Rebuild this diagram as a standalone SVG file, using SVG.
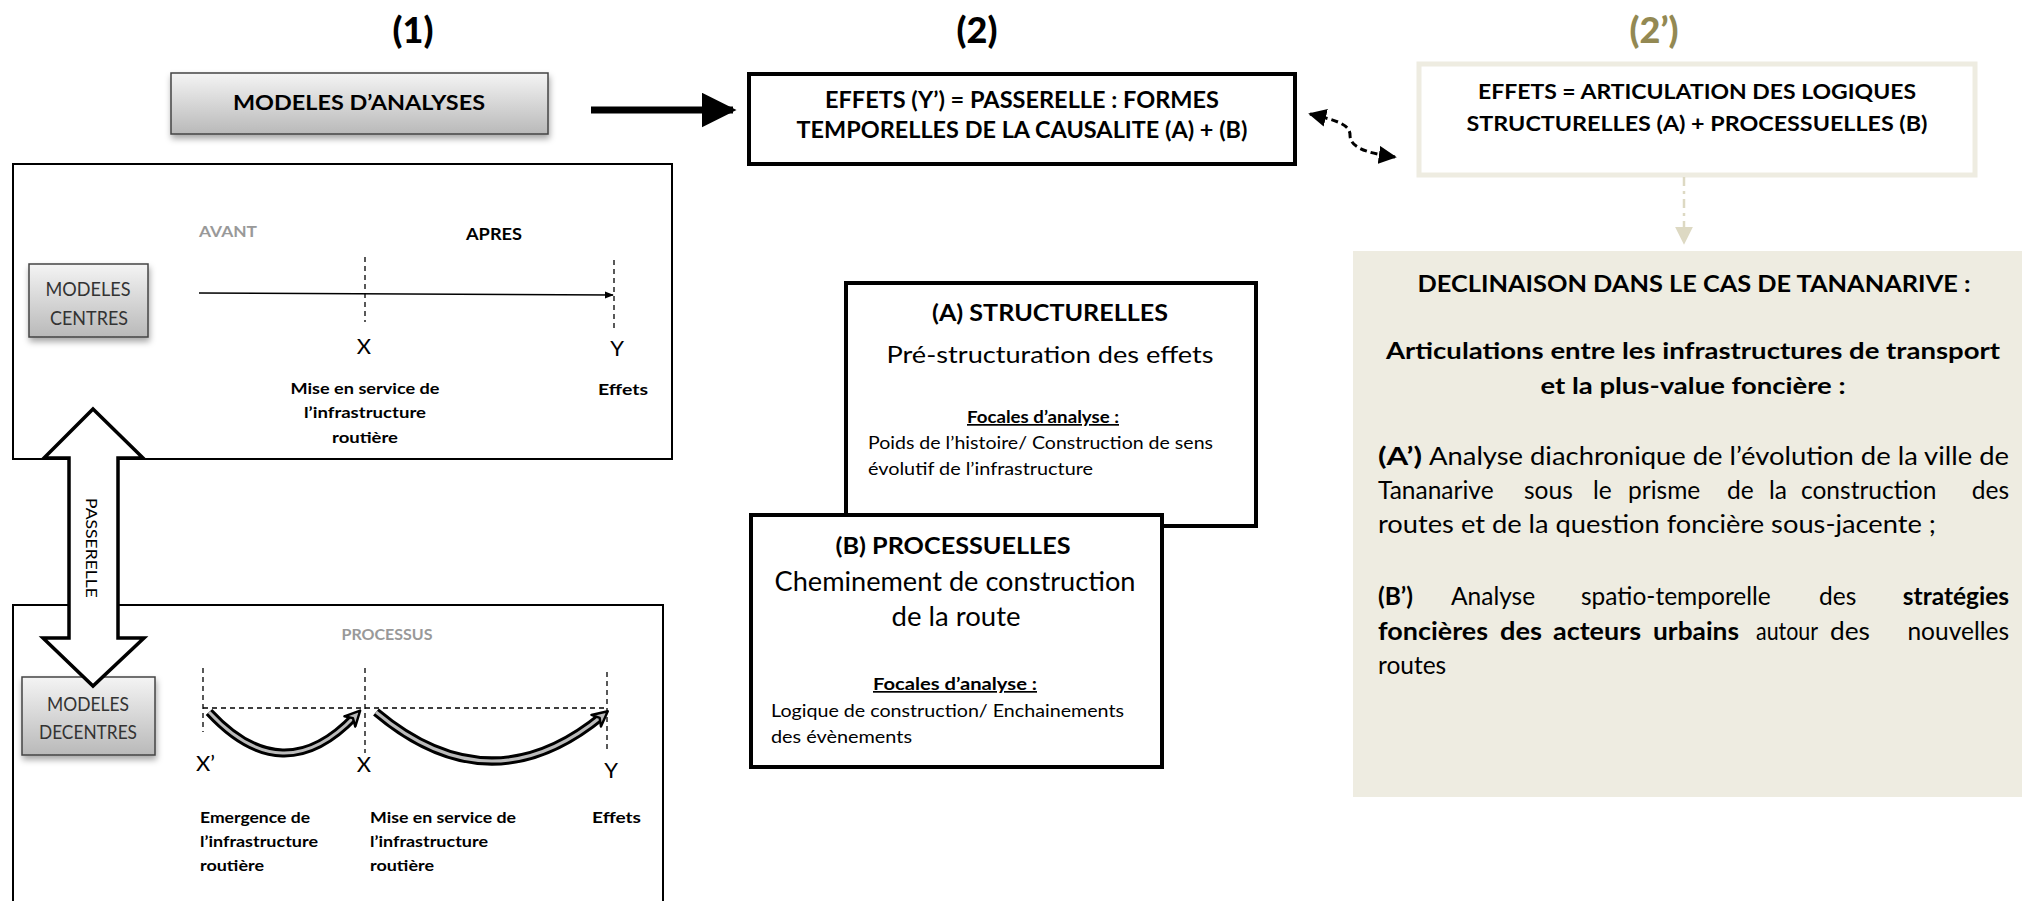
<svg xmlns="http://www.w3.org/2000/svg" width="2022" height="901" viewBox="0 0 2022 901">
<style>
text{font-family:Lato,"Open Sans","Liberation Sans",sans-serif;fill:#000}
.b{font-weight:bold}
.c{text-anchor:middle}
.e{text-anchor:end}
.t{font-size:36px;font-weight:900}
.gbox{fill:url(#gg);stroke:#444;stroke-width:1.5}
.gl{font-size:19px;fill:#333}
.frame{fill:#fff;stroke:#000;stroke-width:2}
.thick{fill:#fff;stroke:#000;stroke-width:4}
.lab{font-size:16px;font-weight:bold}
.xy{font-size:22px}
.dash{stroke:#000;stroke-width:1.3;stroke-dasharray:5 4;fill:none}
.pr{font-size:24.5px}
.ph{font-size:23px;font-weight:bold}
</style>
<defs>
<linearGradient id="gg" x1="0" y1="0" x2="0" y2="1">
<stop offset="0" stop-color="#f4f4f4"/>
<stop offset="1" stop-color="#b9b9b9"/>
</linearGradient>
<filter id="sh" x="-10%" y="-10%" width="125%" height="150%">
<feDropShadow dx="1" dy="4" stdDeviation="3" flood-color="#000" flood-opacity="0.35"/>
</filter>
<marker id="ah" viewBox="0 0 10 10" refX="9" refY="5" markerWidth="5" markerHeight="5" orient="auto-start-reverse" markerUnits="strokeWidth">
<path d="M0,0 L10,5 L0,10 z" fill="#000"/>
</marker>
<marker id="ahs" viewBox="0 0 10 10" refX="9" refY="5" markerWidth="9" markerHeight="9" orient="auto" markerUnits="userSpaceOnUse">
<path d="M0,1 L10,5 L0,9 z" fill="#000"/>
</marker>
<marker id="ahd" viewBox="0 0 10 10" refX="9" refY="5" markerWidth="18" markerHeight="18" orient="auto-start-reverse" markerUnits="userSpaceOnUse">
<path d="M0,0 L10,5 L0,10 z" fill="#000"/>
</marker>
<marker id="ahc" viewBox="0 0 12 12" refX="6" refY="6" markerWidth="18" markerHeight="18" orient="auto" markerUnits="userSpaceOnUse">
<path d="M1,1 L11,6 L1,11 L4,6 z" fill="#bbb" stroke="#000" stroke-width="1.6" stroke-linejoin="round"/>
</marker>
<marker id="ahb" viewBox="0 0 10 10" refX="9" refY="5" markerWidth="18" markerHeight="18" orient="auto" markerUnits="userSpaceOnUse">
<path d="M0,0 L10,5 L0,10 z" fill="#ddd9c3"/>
</marker>
</defs>

<rect width="2022" height="901" fill="#fff"/>

<!-- Titles -->
<g id="title1"><text class="t c" x="413" y="43">(1)</text></g>
<g id="title2"><text class="t c" x="977" y="43">(2)</text></g>
<g id="title2p"><text class="t c" x="1654" y="43" style="fill:#938953">(2’)</text></g>

<!-- MODELES D'ANALYSES -->
<g id="modeles-analyses">
<rect x="171" y="73" width="377" height="61" class="gbox" filter="url(#sh)"/>
<text class="b c" x="359" y="110" font-size="21" textLength="252" lengthAdjust="spacingAndGlyphs">MODELES D’ANALYSES</text>
</g>

<!-- Effets (2) -->
<g id="effets-passerelle">
<rect x="749" y="74" width="546" height="90" class="thick"/>
<text class="b c" x="1022" y="108" font-size="22" textLength="394" lengthAdjust="spacingAndGlyphs">EFFETS (Y’) = PASSERELLE : FORMES</text>
<text class="b c" x="1022" y="138" font-size="22" textLength="451" lengthAdjust="spacingAndGlyphs">TEMPORELLES DE LA CAUSALITE (A) + (B)</text>
</g>

<!-- Effets (2') -->
<g id="effets-articulation">
<rect x="1419" y="64" width="556" height="111" fill="#fff" stroke="#eeece1" stroke-width="5"/>
<text class="b c" x="1697" y="99" font-size="21" textLength="438" lengthAdjust="spacingAndGlyphs">EFFETS = ARTICULATION DES LOGIQUES</text>
<text class="b c" x="1697" y="131" font-size="21" textLength="461" lengthAdjust="spacingAndGlyphs">STRUCTURELLES (A) + PROCESSUELLES (B)</text>
</g>

<!-- Declinaison panel -->
<g id="declinaison">
<rect x="1353" y="251" width="669" height="546" fill="#eeece1"/>
<text class="b c" x="1694" y="292" font-size="22" textLength="553" lengthAdjust="spacingAndGlyphs">DECLINAISON DANS LE CAS DE TANANARIVE :</text>
<text class="ph c" x="1693" y="359" textLength="614" lengthAdjust="spacingAndGlyphs">Articulations entre les infrastructures de transport</text>
<text class="ph c" x="1693" y="394" textLength="305" lengthAdjust="spacingAndGlyphs">et la plus-value foncière :</text>
<text class="pr" y="465"><tspan class="b" x="1378" textLength="44" lengthAdjust="spacingAndGlyphs">(A’)</tspan><tspan x="1429" textLength="580" lengthAdjust="spacingAndGlyphs">Analyse diachronique de l’évolution de la ville de</tspan></text>
<text class="pr" y="499"><tspan x="1378">Tananarive</tspan><tspan x="1524">sous</tspan><tspan x="1593">le</tspan><tspan x="1628">prisme</tspan><tspan x="1727">de</tspan><tspan x="1769">la</tspan><tspan x="1801">construction</tspan><tspan x="2009" text-anchor="end">des</tspan></text>
<text class="pr" x="1378" y="533" textLength="558" lengthAdjust="spacingAndGlyphs">routes et de la question foncière sous-jacente ;</text>
<text class="pr" y="605"><tspan class="b" x="1378">(B’)</tspan><tspan x="1451">Analyse</tspan><tspan x="1581">spatio-temporelle</tspan><tspan x="1819">des</tspan><tspan class="b" x="2009" text-anchor="end">stratégies</tspan></text>
<text class="pr" y="640"><tspan class="b" x="1378" textLength="110" lengthAdjust="spacingAndGlyphs">foncières</tspan><tspan class="b" x="1500" textLength="42" lengthAdjust="spacingAndGlyphs">des</tspan><tspan class="b" x="1553" textLength="88" lengthAdjust="spacingAndGlyphs">acteurs</tspan><tspan class="b" x="1653" textLength="86" lengthAdjust="spacingAndGlyphs">urbains</tspan><tspan x="1756" textLength="62" lengthAdjust="spacingAndGlyphs">autour</tspan><tspan x="1830" textLength="40" lengthAdjust="spacingAndGlyphs">des</tspan><tspan x="2009" text-anchor="end">nouvelles</tspan></text>
<text class="pr" x="1378" y="674">routes</text>
</g>

<!-- (A) Structurelles -->
<g id="structurelles">
<rect x="846" y="283" width="410" height="243" class="thick"/>
<text class="b c" x="1050" y="321" font-size="23" textLength="236" lengthAdjust="spacingAndGlyphs">(A) STRUCTURELLES</text>
<text class="c" x="1050" y="363" font-size="24" textLength="327" lengthAdjust="spacingAndGlyphs">Pré-structuration des effets</text>
<text class="b c" x="1043" y="423" font-size="17" textLength="152" lengthAdjust="spacingAndGlyphs" text-decoration="underline">Focales d’analyse :</text>
<text x="868" y="449" font-size="17" textLength="345" lengthAdjust="spacingAndGlyphs">Poids de l’histoire/ Construction de sens</text>
<text x="868" y="475" font-size="17" textLength="225" lengthAdjust="spacingAndGlyphs">évolutif de l’infrastructure</text>
</g>

<!-- (B) Processuelles -->
<g id="processuelles">
<rect x="751" y="515" width="411" height="252" class="thick"/>
<text class="b c" x="953" y="554" font-size="23" textLength="235" lengthAdjust="spacingAndGlyphs">(B) PROCESSUELLES</text>
<text class="c" x="955" y="591" font-size="27" textLength="361" lengthAdjust="spacingAndGlyphs">Cheminement de construction</text>
<text class="c" x="956" y="626" font-size="27" textLength="129" lengthAdjust="spacingAndGlyphs">de la route</text>
<text class="b c" x="955" y="690" font-size="17" textLength="164" lengthAdjust="spacingAndGlyphs" text-decoration="underline">Focales d’analyse :</text>
<text x="771" y="717" font-size="17" textLength="353" lengthAdjust="spacingAndGlyphs">Logique de construction/ Enchainements</text>
<text x="771" y="743" font-size="17" textLength="141" lengthAdjust="spacingAndGlyphs">des évènements</text>
</g>

<!-- Modeles centres panel -->
<g id="modeles-centres-panel">
<rect x="13" y="164" width="659" height="295" class="frame"/>
<text class="b" x="199" y="237" font-size="15" style="fill:#999" textLength="58" lengthAdjust="spacingAndGlyphs">AVANT</text>
<text class="b" x="466" y="240" font-size="17" textLength="56" lengthAdjust="spacingAndGlyphs">APRES</text>
<rect x="29" y="264" width="119" height="73" class="gbox" filter="url(#sh)"/>
<text class="gl c" x="88" y="296" textLength="85" lengthAdjust="spacingAndGlyphs">MODELES</text>
<text class="gl c" x="89" y="325" textLength="78" lengthAdjust="spacingAndGlyphs">CENTRES</text>
<line x1="199" y1="293" x2="613" y2="295" stroke="#000" stroke-width="1.5" marker-end="url(#ahs)"/>
<line x1="365" y1="257" x2="365" y2="322" class="dash"/>
<line x1="614" y1="260" x2="614" y2="330" class="dash"/>
<text class="xy c" x="364" y="354">X</text>
<text class="xy c" x="617" y="356">Y</text>
<text class="lab c" x="365" y="394" textLength="149" lengthAdjust="spacingAndGlyphs">Mise en service de</text>
<text class="lab c" x="365" y="418" textLength="122" lengthAdjust="spacingAndGlyphs">l’infrastructure</text>
<text class="lab c" x="365" y="443" textLength="66" lengthAdjust="spacingAndGlyphs">routière</text>
<text class="lab c" x="623" y="395" textLength="50" lengthAdjust="spacingAndGlyphs">Effets</text>
</g>

<!-- Modeles decentres panel -->
<g id="modeles-decentres-panel">
<path d="M13,901 V605 H663 V901" class="frame"/>
<text class="b c" x="387" y="640" font-size="16" style="fill:#999" textLength="91" lengthAdjust="spacingAndGlyphs">PROCESSUS</text>
<rect x="22" y="677" width="133" height="78" class="gbox" filter="url(#sh)"/>
<text class="gl c" x="88" y="711" textLength="82" lengthAdjust="spacingAndGlyphs">MODELES</text>
<text class="gl c" x="88" y="739" textLength="98" lengthAdjust="spacingAndGlyphs">DECENTRES</text>
<line x1="203" y1="668" x2="203" y2="732" class="dash"/>
<line x1="365" y1="668" x2="365" y2="753" class="dash"/>
<line x1="607" y1="672" x2="607" y2="753" class="dash"/>
<line x1="203" y1="708" x2="605" y2="708" class="dash"/>
<path d="M209,712 Q283,792 355,716" fill="none" stroke="#000" stroke-width="9" stroke-linecap="butt"/>
<path d="M209,712 Q283,792 355,716" fill="none" stroke="#bbb" stroke-width="3" marker-end="url(#ahc)"/>
<path d="M376,712 Q490,808 602,716" fill="none" stroke="#000" stroke-width="9" stroke-linecap="butt"/>
<path d="M376,712 Q490,808 602,716" fill="none" stroke="#bbb" stroke-width="3" marker-end="url(#ahc)"/>
<text class="xy" x="196" y="771">X’</text>
<text class="xy c" x="364" y="772">X</text>
<text class="xy c" x="611" y="778">Y</text>
<text class="lab" x="200" y="823" textLength="110" lengthAdjust="spacingAndGlyphs">Emergence de</text>
<text class="lab" x="200" y="847" textLength="118" lengthAdjust="spacingAndGlyphs">l’infrastructure</text>
<text class="lab" x="200" y="871" textLength="64" lengthAdjust="spacingAndGlyphs">routière</text>
<text class="lab" x="370" y="823" textLength="146" lengthAdjust="spacingAndGlyphs">Mise en service de</text>
<text class="lab" x="370" y="847" textLength="118" lengthAdjust="spacingAndGlyphs">l’infrastructure</text>
<text class="lab" x="370" y="871" textLength="64" lengthAdjust="spacingAndGlyphs">routière</text>
<text class="lab" x="592" y="823" textLength="49" lengthAdjust="spacingAndGlyphs">Effets</text>
</g>

<!-- Passerelle double arrow -->
<g id="passerelle">
<polygon points="93,409 143,458 118,458 118,638 144,638 93,686 43,638 69,638 69,458 44,458" fill="#fff" stroke="#000" stroke-width="3.5" stroke-linejoin="miter"/>
<text transform="translate(86,548) rotate(90)" class="c" font-size="16" textLength="100" lengthAdjust="spacingAndGlyphs">PASSERELLE</text>
</g>

<!-- Connectors -->
<g id="connectors">
<line x1="591" y1="110" x2="733" y2="110" stroke="#000" stroke-width="7" marker-end="url(#ah)"/>
<path d="M1310,114 C1335,120 1350,124 1350,135 C1350,147 1365,153 1395,157" fill="none" stroke="#000" stroke-width="3" stroke-dasharray="7 4" marker-start="url(#ahd)" marker-end="url(#ahd)"/>
<line x1="1684" y1="177" x2="1684" y2="243" stroke="#ddd9c3" stroke-width="2.5" stroke-dasharray="9 5 3 5" marker-end="url(#ahb)"/>
</g>
</svg>
